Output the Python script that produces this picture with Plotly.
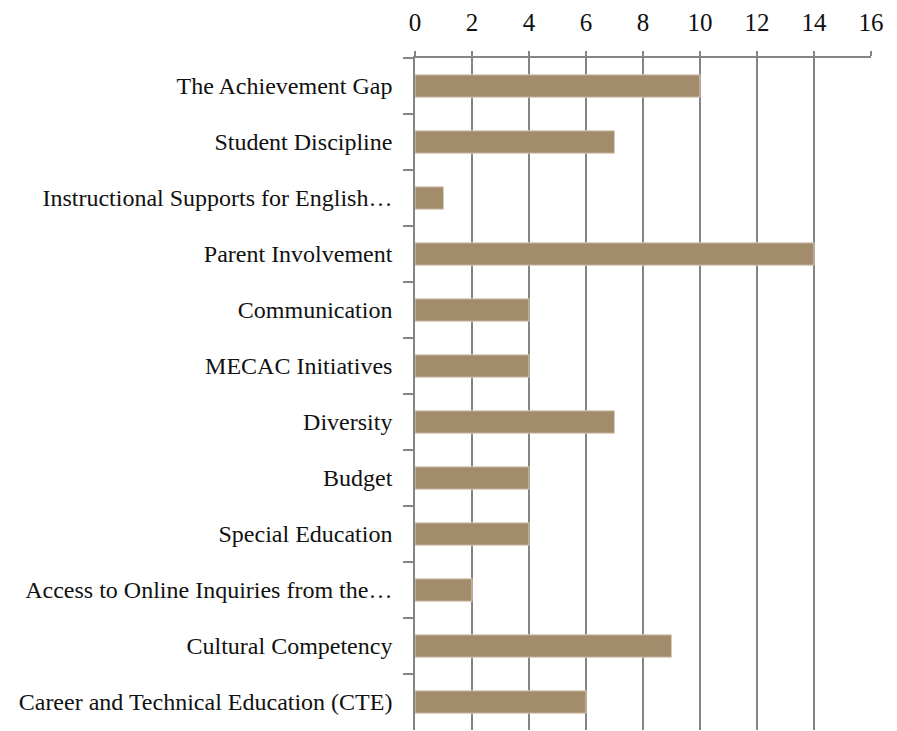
import plotly.graph_objects as go

categories = [
    "The Achievement Gap",
    "Student Discipline",
    "Instructional Supports for English…",
    "Parent Involvement",
    "Communication",
    "MECAC Initiatives",
    "Diversity",
    "Budget",
    "Special Education",
    "Access to Online Inquiries from the…",
    "Cultural Competency",
    "Career and Technical Education (CTE)",
]
values = [10, 7, 1, 14, 4, 4, 7, 4, 4, 2, 9, 6]
x_ticks = [0, 2, 4, 6, 8, 10, 12, 14, 16]

FONT = "Liberation Serif"
OFF = 8  # page body margin
W, H = 897 - OFF, 731 - OFF
L, R, T, B = 415 - OFF, 26, 52 - OFF, 1

fig = go.Figure(
    go.Bar(
        x=values,
        y=categories,
        orientation="h",
        width=0.4,
        marker=dict(color="#A38C6B", line=dict(color="#D9CDB8", width=1)),
        hoverinfo="x+y",
    )
)

fig.update_layout(
    width=W,
    height=H,
    margin=dict(l=L, r=R, t=T, b=B, pad=0),
    paper_bgcolor="white",
    plot_bgcolor="white",
    font=dict(family=FONT, size=24, color="#111111"),
    showlegend=False,
    bargap=0.6,
)

fig.update_xaxes(
    side="top",
    range=[0, 16],
    tickvals=x_ticks,
    ticktext=[str(v) for v in x_ticks],
    showgrid=True,
    gridcolor="#858585",
    gridwidth=1.5,
    showline=True,
    linecolor="#858585",
    linewidth=1.5,
    ticks="outside",
    ticklen=5,
    tickcolor="#858585",
    tickwidth=1.5,
    ticklabelstandoff=10,
    zeroline=False,
    tickfont=dict(family=FONT, size=25),
)

fig.update_yaxes(
    autorange="reversed",
    showline=True,
    linecolor="#858585",
    linewidth=1.5,
    ticks="outside",
    ticklen=10,
    tickcolor="#858585",
    tickwidth=1.5,
    tickson="boundaries",
    showgrid=False,
    ticklabelstandoff=16,
    tickfont=dict(family=FONT, size=24),
)

# partially clipped stray label at the top-left edge
fig.add_annotation(
    text="0",
    xref="paper",
    yref="paper",
    x=-(L + OFF + 1) / (W - L - R),
    y=1 + (T + OFF - 20) / (H - T - B),
    xanchor="center",
    yanchor="middle",
    showarrow=False,
    font=dict(family=FONT, size=25, color="#111111"),
)

fig.write_html("out.html")
